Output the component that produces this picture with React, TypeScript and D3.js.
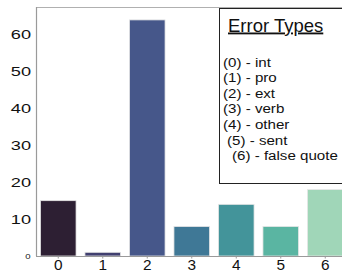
import React, { useEffect, useRef } from "react";
import * as d3 from "d3";

const categories = ["0", "1", "2", "3", "4", "5", "6"];
const counts = [15, 1, 64, 8, 14, 8, 18];
const barColors = ["#2d1f33", "#403f6f", "#46578a", "#3f7896", "#43949a", "#5ab5a2", "#a0d6b8"];
const yTicks = [0, 10, 20, 30, 40, 50, 60];
const legendTitle = "Error Types";
const legendItems = [
  "(0) - int",
  "(1) - pro",
  "(2) - ext",
  "(3) - verb",
  "(4) - other",
  "(5) - sent",
  "(6) - false quote",
];

const W = 342;
const H = 272;

const App: React.FC = () => {
  const ref = useRef<SVGSVGElement | null>(null);

  useEffect(() => {
    document.body.style.margin = "0";
    if (!ref.current) return;
    const svg = d3.select(ref.current);
    svg.selectAll("*").remove();

    const left = 36;
    const top = 7;
    const bottom = 256;
    const right = 347.5;
    const font = "'Liberation Sans', Arial, Helvetica, sans-serif";

    const x = d3
      .scaleBand<string>()
      .domain(categories)
      .range([left, right])
      .paddingInner(0.2)
      .paddingOuter(0.1);

    const y = d3.scaleLinear().domain([0, 67.5]).range([bottom, top]);

    // frame lines
    svg.append("line")
      .attr("x1", left).attr("x2", W).attr("y1", top + 0.5).attr("y2", top + 0.5)
      .attr("stroke", "#b0b0b0").attr("stroke-width", 1.2);
    svg.append("line")
      .attr("x1", left + 0.5).attr("x2", left + 0.5).attr("y1", top).attr("y2", bottom)
      .attr("stroke", "#9a9a9a").attr("stroke-width", 1.2);

    // bars
    svg.append("g")
      .selectAll("rect")
      .data(counts)
      .enter()
      .append("rect")
      .attr("x", (_, i) => x(categories[i])!)
      .attr("width", x.bandwidth())
      .attr("y", (d) => y(d))
      .attr("height", (d) => bottom - y(d))
      .attr("fill", (_, i) => barColors[i])
      .attr("stroke", "#e6e6e6")
      .attr("stroke-width", 0.8);

    // bottom axis
    svg.append("line")
      .attr("x1", left).attr("x2", W).attr("y1", bottom + 0.5).attr("y2", bottom + 0.5)
      .attr("stroke", "#9a9a9a").attr("stroke-width", 1.2);

    const xt = svg.append("g");
    xt.selectAll("line")
      .data(categories)
      .enter()
      .append("line")
      .attr("x1", (d) => x(d)! + x.bandwidth() / 2)
      .attr("x2", (d) => x(d)! + x.bandwidth() / 2)
      .attr("y1", bottom)
      .attr("y2", bottom + 2.5)
      .attr("stroke", "#9a9a9a");
    xt.selectAll("text")
      .data(categories)
      .enter()
      .append("text")
      .attr("transform", (d) => `translate(${x(d)! + x.bandwidth() / 2},270) scale(1.1,1)`)
      .attr("text-anchor", "middle")
      .attr("font-family", font)
      .attr("font-size", 14)
      .attr("fill", "#111")
      .text((d) => d);

    // y tick labels (reference glyphs are wide, so stretch horizontally)
    svg.append("g")
      .selectAll("text")
      .data(yTicks)
      .enter()
      .append("text")
      .attr("transform", (d) =>
        d === 0
          ? `translate(30.5,${y(d) + 2.5}) scale(1.2,1)`
          : `translate(31,${y(d) + 4.6}) scale(1.4,1)`
      )
      .attr("text-anchor", "end")
      .attr("font-family", font)
      .attr("font-size", (d) => (d === 0 ? 8 : 13))
      .attr("fill", "#111")
      .text((d) => String(d));

    // legend
    const lg = svg.append("g");
    lg.append("rect")
      .attr("x", 219.5)
      .attr("y", 8.5)
      .attr("width", 140)
      .attr("height", 175)
      .attr("fill", "#fff")
      .attr("stroke", "#222")
      .attr("stroke-width", 1);
    lg.append("text")
      .attr("x", 228)
      .attr("y", 31.5)
      .attr("font-family", font)
      .attr("font-size", 18.5)
      .attr("text-decoration", "underline")
      .attr("fill", "#111")
      .text(legendTitle);
    lg.selectAll("text.item")
      .data(legendItems)
      .enter()
      .append("text")
      .attr("class", "item")
      .attr(
        "transform",
        (_, i) => `translate(${223 + (i === 5 ? 4 : i === 6 ? 9 : 0)},${66.5 + i * 15.65}) scale(1.12,1)`
      )
      .attr("font-family", font)
      .attr("font-size", 13.5)
      .attr("fill", "#111")
      .text((d) => d);
  }, []);

  return <svg ref={ref} width={W} height={H} style={{ display: "block" }}></svg>;
};

export default App;
